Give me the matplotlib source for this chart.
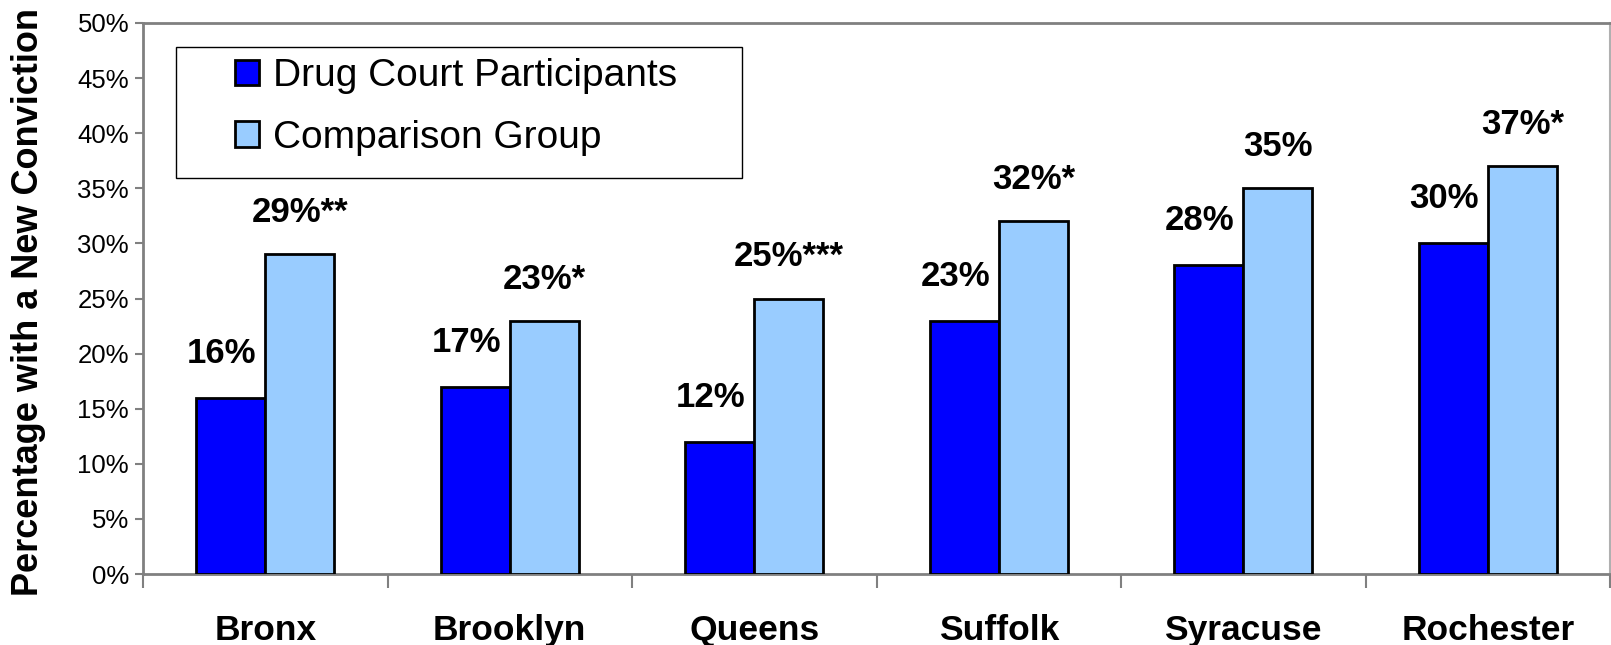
import matplotlib
matplotlib.use("Agg")
import matplotlib.pyplot as plt
import numpy as np
from matplotlib.patches import Rectangle

categories = ["Bronx", "Brooklyn", "Queens", "Suffolk", "Syracuse", "Rochester"]
drug_court = [16, 17, 12, 23, 28, 30]
comparison = [29, 23, 25, 32, 35, 37]
drug_labels = ["16%", "17%", "12%", "23%", "28%", "30%"]
comp_labels = ["29%**", "23%*", "25%***", "32%*", "35%", "37%*"]
yticks = [0, 5, 10, 15, 20, 25, 30, 35, 40, 45, 50]
ytick_labels = [f"{v}%" for v in yticks]
series_names = ["Drug Court Participants", "Comparison Group"]

plt.rcParams['font.family'] = ['Liberation Sans', 'DejaVu Sans']

W, H = 1611, 645
fig = plt.figure(figsize=(W / 100, H / 100), dpi=100)
ax = fig.add_axes([143 / W, (H - 574) / H, (1610 - 143) / W, (574 - 23) / H])

x = np.arange(len(categories))
bw = 0.283
dark = "#0000FF"
light = "#99CCFF"
b1 = ax.bar(x - bw / 2, drug_court, bw, color=dark, edgecolor="black", linewidth=2, label=series_names[0], zorder=3)
b2 = ax.bar(x + bw / 2, comparison, bw, color=light, edgecolor="black", linewidth=2, label=series_names[1], zorder=3)

for xi, v, t in zip(x, drug_court, drug_labels):
    ax.annotate(t, (xi - bw / 2, v), xytext=(-9, 35), textcoords="offset pixels",
                ha="center", va="baseline", fontsize=25, fontweight="bold")
for xi, v, t in zip(x, comparison, comp_labels):
    ax.annotate(t, (xi + bw / 2, v), xytext=(0, 32), textcoords="offset pixels",
                ha="center", va="baseline", fontsize=25, fontweight="bold")

ax.set_xlim(-0.5, len(categories) - 0.5)
ax.set_ylim(0, 50)
ax.set_yticks(yticks)
ax.set_yticklabels(ytick_labels, fontsize=18.5)
ax.tick_params(axis="y", direction="out", length=6, width=1.5, color="#808080", pad=4)

ax.set_xticks(x)
ax.set_xticklabels(categories, fontsize=25.5, fontweight="bold")
ax.tick_params(axis="x", length=0, pad=29)
ax.set_xticks(np.arange(-0.5, len(categories)), minor=True)
ax.tick_params(axis="x", which="minor", direction="out", length=10, width=1.5, color="#808080")

for side in ["left", "bottom", "top"]:
    ax.spines[side].set_color("#808080")
    ax.spines[side].set_linewidth(2)
ax.spines["right"].set_color("#B0B0B0")
ax.spines["right"].set_linewidth(1.5)

ax.set_ylabel("Percentage with a New Conviction", fontsize=26, fontweight="bold")
ax.yaxis.set_label_coords((46 - 143) / (1610 - 143), (645 - 302 - 71) / (574 - 23))

# legend frame
fig.patches.append(Rectangle((176 / W, 1 - 178 / H), (742 - 176) / W, (178 - 47) / H,
                             transform=fig.transFigure, facecolor="white", edgecolor="black",
                             linewidth=1, zorder=4))
leg = fig.legend(handles=[b1, b2], labels=series_names, loc="upper left",
                 bbox_to_anchor=(235 / W, 1 - 58 / H), frameon=False, fontsize=28,
                 handlelength=0.62, handleheight=0.62, handletextpad=0.36,
                 labelspacing=0.66, borderpad=0, borderaxespad=0)
leg.set_zorder(5)

fig.savefig("out.png", dpi=100)
